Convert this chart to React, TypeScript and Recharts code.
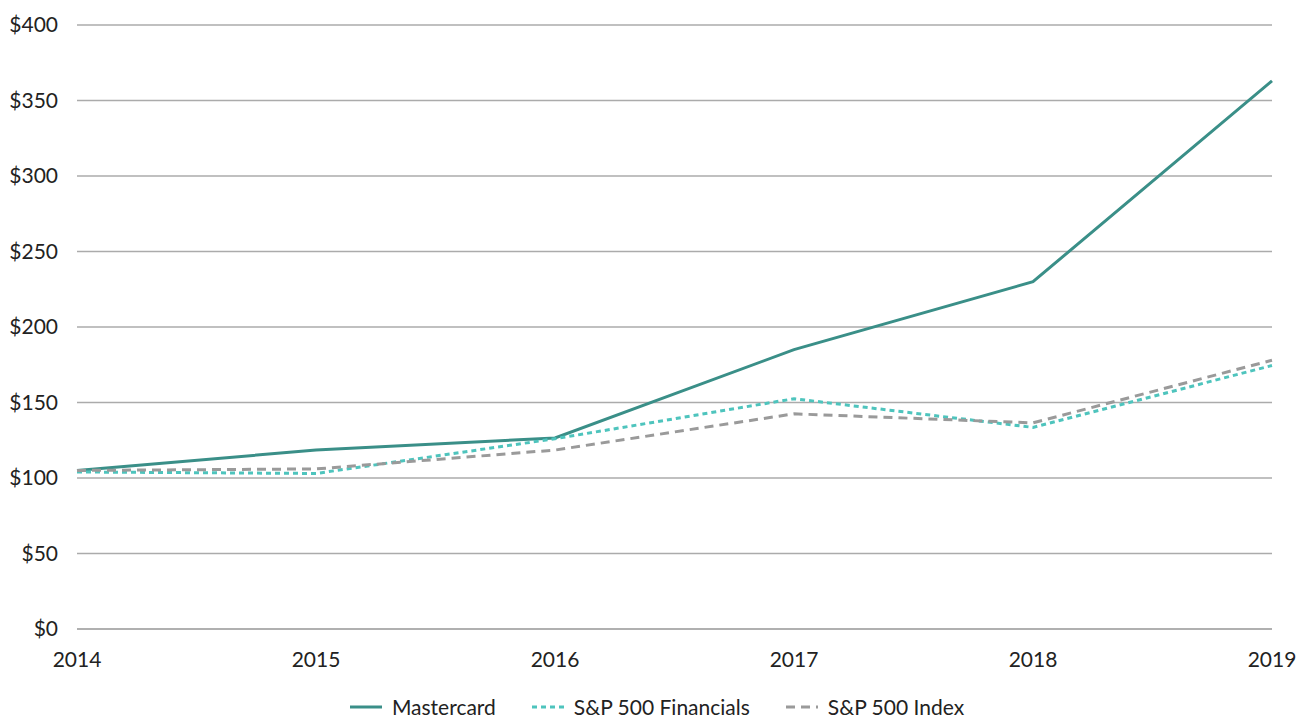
import React from "react";
import { LineChart, Line, XAxis, YAxis, CartesianGrid, Legend } from "recharts";

const years = ["2014", "2015", "2016", "2017", "2018", "2019"];
const mastercard = [105, 118.5, 126.5, 185, 230, 363];
const financials = [104, 103, 126, 152.5, 133.5, 174.5];
const sp500 = [105, 106, 118.5, 142.5, 136.5, 178];
const yTicks = [0, 50, 100, 150, 200, 250, 300, 350, 400];

const data = years.map((y, i) => ({
  year: y,
  mastercard: mastercard[i],
  financials: financials[i],
  sp500: sp500[i],
}));

const FONT = "Lato, 'Open Sans', sans-serif";

const series = [
  { key: "mastercard", name: "Mastercard", color: "#3a8f88", dash: undefined as string | undefined },
  { key: "financials", name: "S&P 500 Financials", color: "#4ec4bd", dash: "5 4" },
  { key: "sp500", name: "S&P 500 Index", color: "#9a9a9a", dash: "9 6" },
];

const LegendContent = () => (
  <div style={{ display: "flex", justifyContent: "center", alignItems: "center", fontFamily: FONT, fontSize: 21, lineHeight: "24px", color: "#222", gap: 34, paddingLeft: 40, marginTop: 6 }}>
    {series.map((s) => (
      <div key={s.key} style={{ display: "flex", alignItems: "center" }}>
        <svg width={36} height={10} style={{ marginRight: 8 }}>
          <line x1={2} y1={5} x2={34} y2={5} stroke={s.color} strokeWidth={3} strokeDasharray={s.dash} />
        </svg>
        <span>{s.name}</span>
      </div>
    ))}
  </div>
);

export default function App() {
  return (
    <div style={{ position: "fixed", left: 0, top: 0, width: 1302, height: 726, background: "#fff", overflow: "hidden" }}>
      <LineChart width={1302} height={726} data={data} margin={{ top: 25, right: 30, left: 0, bottom: 0 }}>
        <CartesianGrid vertical={false} stroke="#ababab" strokeWidth={1.5} />
        <XAxis
          dataKey="year"
          axisLine={{ stroke: "#ababab", strokeWidth: 1.5 }}
          tickLine={false}
          tick={{ fill: "#222", fontSize: 21, fontFamily: FONT }}
          tickMargin={17}
          height={60}
          interval={0}
        />
        <YAxis
          domain={[0, 400]}
          ticks={yTicks}
          axisLine={false}
          tickLine={false}
          width={77}
          tickMargin={13}
          tickFormatter={(v: number) => `$${v}`}
          tick={{ fill: "#222", fontSize: 21, fontFamily: FONT }}
        />
        <Legend verticalAlign="bottom" height={37} content={<LegendContent />} />
        {series.map((s) => (
          <Line
            key={s.key}
            type="linear"
            dataKey={s.key}
            name={s.name}
            stroke={s.color}
            strokeWidth={3}
            strokeDasharray={s.dash}
            dot={false}
            activeDot={false}
            isAnimationActive={false}
          />
        ))}
      </LineChart>
    </div>
  );
}
